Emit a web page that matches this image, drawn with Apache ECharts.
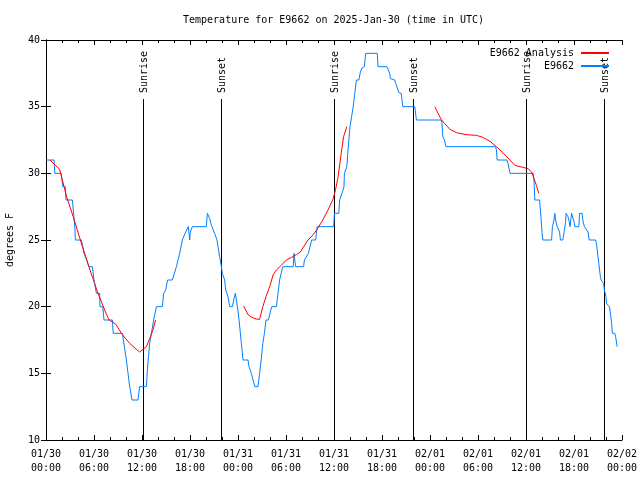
<!DOCTYPE html>
<html>
<head>
<meta charset="utf-8">
<script src="https://cdn.jsdelivr.net/npm/echarts@6/dist/echarts.min.js"></script>
<style>html,body{margin:0;padding:0;background:#fff}#c{width:640px;height:480px}</style>
</head>
<body>
<div id="c"></div>
<script>
// hours since 2025-01-30 00:00 UTC
const tickLabels = ["01/30\n00:00","01/30\n06:00","01/30\n12:00","01/30\n18:00","01/31\n00:00","01/31\n06:00","01/31\n12:00","01/31\n18:00","02/01\n00:00","02/01\n06:00","02/01\n12:00","02/01\n18:00","02/02\n00:00"];

const obsHours = [0.0,1.0,1.1,1.9,2.1,2.4,2.5,3.3,3.45,3.6,3.67,4.42,4.6,4.75,5.1,5.34,5.8,6.0,6.3,6.7,6.75,7.1,7.25,8.3,8.4,9.55,9.8,10.05,10.25,10.46,10.75,11.5,11.7,12.55,12.7,12.96,13.17,13.46,13.71,13.8,14.55,14.71,14.96,15.2,15.8,16.3,16.71,17.04,17.25,17.46,17.67,17.79,17.96,18.04,18.29,20.04,20.17,20.33,20.46,20.67,20.88,21.08,21.38,21.5,21.71,21.92,22.04,22.33,22.46,22.75,22.96,23.3,23.5,23.67,23.8,23.92,24.08,24.42,24.63,25.25,25.38,25.67,25.88,26.1,26.5,26.7,26.9,27.1,27.3,27.5,27.8,28.2,28.8,29.0,29.2,29.6,30.9,31.0,31.1,31.2,32.2,32.3,32.8,33.0,33.2,33.7,33.9,35.96,36.05,36.6,36.7,36.9,37.0,37.25,37.3,37.6,37.75,38.0,38.2,38.4,38.6,38.8,39.1,39.3,39.5,39.8,39.96,41.4,41.5,42.6,42.75,42.96,43.05,43.6,43.7,44.0,44.1,44.4,44.6,46.1,46.3,49.4,49.5,49.6,49.8,50.0,56.2,56.3,56.4,57.6,57.75,58.0,60.9,61.0,61.1,61.7,61.8,61.9,62.0,62.1,63.2,63.3,63.5,63.6,63.7,63.9,64.2,64.3,64.6,64.75,64.96,65.0,65.25,65.4,65.5,65.7,65.9,66.0,66.1,66.6,66.7,67.0,67.1,67.3,67.5,67.75,67.9,68.7,68.8,69.0,69.1,69.3,69.4,69.7,69.8,70.0,70.05,70.4,70.5,70.7,70.8,71.1,71.2,71.4];
const obsTemps = [31,31,30,30,29,29,28,28,27,26,25,25,24.5,24,23.5,23,23,22,21,21,20,20,19,19,18,18,17,16,15,14,13,13,14,14,15.5,17.25,18,19,19,20,20,21,21.25,22,22,23,24,25,25,25.6,25.75,26,25,25.6,26,26,27,27,26.6,26.1,26,25.5,25,24.5,23.75,23,22.5,22,21.25,20.75,20,20,20.6,21,20.9,20,19.3,17.25,16,16,15.5,15,14.5,14,14,15,16,17.25,18,19,19,20,20,21,22,23,23,24,24,23,23,23.5,24,24.5,25,25,26,26,27,27,28,28,28.5,29,30,30.5,31.75,33.5,34.25,35,36,37,37,37.6,37.9,38,39,39,38,38,37.9,37.5,37.1,37,36.75,36.25,36.05,36,35,35,34,34,33.75,32.75,32.5,32,32,31.75,31,31,30.75,30,30,29.5,28,28,27.25,26.5,25.55,25,25,26,26.5,27,26.5,26,25.6,25,25,25.55,26.4,27,26.75,26.4,26,27,27,26.4,26,26,27,27,26.5,26,26,25.6,25,25,24.75,23.75,23.25,22.25,22,21.75,21.25,20.75,20.25,20,19.75,18.75,18,18,17.75,17];

const anaHours = [0.5,1.0,1.7,2.0,2.6,3.4,4.4,5.5,6.5,7.5,7.9,8.7,9.55,10.45,11.3,11.7,12.55,12.96,13.4,13.7,
  null,
  24.7,25.25,25.7,26.3,26.7,27.1,27.5,27.96,28.4,28.8,29.4,30.05,30.7,31.3,31.8,32.1,32.75,33.4,34.0,34.6,35.25,35.9,36.2,36.5,36.9,37.2,37.6,
  null,
  48.6,49.0,49.4,49.8,50.5,51.3,52.5,53.8,54.6,55.5,56.3,57.1,58.0,58.6,59.6,60.25,60.7,61.0,61.3,61.6];
const anaTemps = [31,30.7,30.3,29.6,28.2,26.75,24.8,22.75,21,19.5,19,18.7,17.9,17.25,16.8,16.6,17,17.6,18.3,19,
  null,
  20.05,19.4,19.2,19.07,19.05,20,20.75,21.5,22.4,22.75,23.1,23.5,23.7,23.9,24.1,24.4,25,25.4,25.9,26.5,27.25,28.1,28.8,29.7,31.5,32.75,33.5,
  null,
  35,34.5,34.05,33.75,33.3,33.05,32.9,32.85,32.7,32.4,32,31.55,31.0,30.6,30.45,30.35,30.1,29.6,29.1,28.5];

const sunHours = [12.1, 21.85, 36.0, 45.85, 60.0, 69.75];
const sunLabels = ["Sunrise","Sunset","Sunrise","Sunset","Sunrise","Sunset"];

const FONT = "DejaVu Sans Mono";
const RED = '#ff0000';
const BLUE = '#0080ff';
const obsData = obsHours.map((h, i) => [h, obsTemps[i]]);
const anaData = anaHours.map((h, i) => h === null ? [null, null] : [h, anaTemps[i]]);
const sunData = sunHours.map((h, i) => [h, 10, sunLabels[i]]);

const chart = echarts.init(document.getElementById('c'), null, {renderer: 'canvas'});
const tickCommon = {show: true, inside: true, length: 5, lineStyle: {color: '#000', width: 1}};
const minorCommon = {show: true, splitNumber: 3, length: 3, lineStyle: {color: '#000', width: 1}};
const legendCommon = {right: 31, align: 'right', orient: 'horizontal', padding: 0, itemWidth: 28, itemHeight: 2, itemGap: 0,
  icon: 'rect', textStyle: {fontFamily: FONT, fontSize: 10, color: '#000', padding: [0, 2, 0, 0]}};
chart.setOption({
  animation: false,
  backgroundColor: '#fff',
  textStyle: {fontFamily: FONT, fontSize: 10, color: '#000'},
  title: {
    text: 'Temperature for E9662 on 2025-Jan-30 (time in UTC)',
    left: 183, top: 15, padding: 0,
    textStyle: {fontFamily: FONT, fontSize: 10, fontWeight: 'normal', color: '#000'}
  },
  legend: [
    Object.assign({data: [{name: 'E9662 Analysis', itemStyle: {color: RED}}], top: 48}, legendCommon),
    Object.assign({data: [{name: 'E9662', itemStyle: {color: BLUE}}], top: 61}, legendCommon)
  ],
  grid: {left: 46, right: 18, top: 40, bottom: 40, containLabel: false, outerBoundsMode: 'none'},
  xAxis: [
    {type: 'value', position: 'bottom', min: 0, max: 72, interval: 6,
     axisLine: {show: true, lineStyle: {color: '#000', width: 1}},
     axisTick: tickCommon, minorTick: minorCommon, splitLine: {show: false},
     axisLabel: {fontFamily: FONT, fontSize: 10, color: '#000', lineHeight: 14, margin: 7,
       formatter: v => tickLabels[Math.round(v / 6)] || ''}},
    {type: 'value', position: 'top', min: 0, max: 72, interval: 6,
     axisLine: {show: true, lineStyle: {color: '#000', width: 1}},
     axisTick: tickCommon, minorTick: minorCommon, splitLine: {show: false},
     axisLabel: {show: false}}
  ],
  yAxis: [
    {type: 'value', position: 'left', min: 10, max: 40, interval: 5,
     name: 'degrees F', nameLocation: 'middle', nameGap: 31, nameRotate: 90,
     nameTextStyle: {fontFamily: FONT, fontSize: 10, color: '#000'},
     axisLine: {show: true, lineStyle: {color: '#000', width: 1}},
     axisTick: tickCommon, splitLine: {show: false},
     axisLabel: {fontFamily: FONT, fontSize: 10, color: '#000', margin: 6}},
    {type: 'value', position: 'right', min: 10, max: 40, interval: 5,
     axisLine: {show: true, lineStyle: {color: '#000', width: 1}},
     axisTick: tickCommon, splitLine: {show: false}, axisLabel: {show: false}}
  ],
  series: [
    {name: 'Sun', type: 'custom', xAxisIndex: 0, yAxisIndex: 0, data: sunData, encode: {x: 0, y: 1}, z: 1,
     renderItem: function (params, api) {
       const h = api.value(0);
       const pb = api.coord([h, 10]);
       const pt = api.coord([h, 40]);
       const x = Math.round(pb[0]) + 0.5;
       return {type: 'group', children: [
         {type: 'line', shape: {x1: x, y1: pt[1] + 59, x2: x, y2: pb[1]}, style: {stroke: '#000', lineWidth: 1}},
         {type: 'text', x: x + 1, y: pt[1] + 53, rotation: Math.PI / 2,
          style: {text: sunData[params.dataIndex][2], textAlign: 'left', textVerticalAlign: 'middle',
                  font: '10px ' + FONT, fill: '#000'}}
       ]};
     }},
    {name: 'E9662 Analysis', type: 'line', data: anaData, symbol: 'none', showSymbol: false, connectNulls: false, z: 3,
     lineStyle: {color: RED, width: 1}, itemStyle: {color: RED}},
    {name: 'E9662', type: 'line', data: obsData, symbol: 'none', showSymbol: false, z: 2,
     lineStyle: {color: BLUE, width: 1}, itemStyle: {color: BLUE}}
  ]
});
</script>
</body>
</html>
